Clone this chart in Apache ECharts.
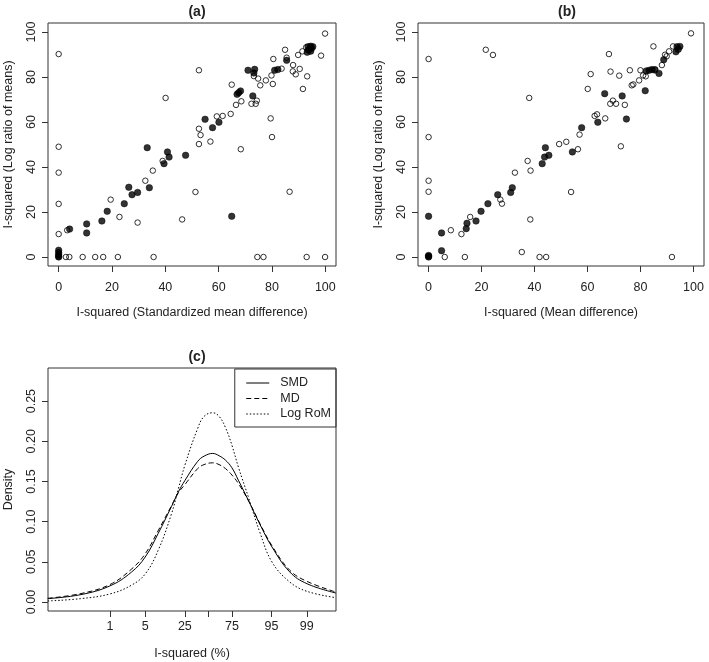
<!DOCTYPE html>
<html>
<head>
<meta charset="utf-8">
<script src="https://cdn.jsdelivr.net/npm/echarts@6/dist/echarts.min.js"></script>
<style>
  html, body { margin: 0; padding: 0; background: #fff; }
  #chart { width: 709px; height: 662px; }
</style>
</head>
<body>
<div id="chart"></div>
<script>
// (a) I-squared SMD (x) vs I-squared log ratio of means (y)
var aOpen = [
  [0, 90.2], [52.6, 83], [40.1, 70.7], [52.6, 57], [53.2, 54.2], [52.6, 50.2], [0, 49],
  [39, 42.7], [0, 37.5], [35.3, 38.4], [32.5, 33.9], [51.3, 28.9], [0, 23.6], [19.5, 25.5],
  [22.8, 17.8], [29.6, 15.3], [46.3, 16.7], [3.2, 11.9], [0, 10.2],
  [2.7, 0], [4, 0], [9, 0], [13.7, 0], [16.7, 0], [22.2, 0], [35.6, 0], [74.5, 0], [76.8, 0], [93, 0], [99.9, 0],
  [99.9, 99.3], [84.9, 92.1], [89.8, 89.8], [91.4, 91.4], [98.4, 89.5], [80.5, 88], [85.5, 88.6],
  [87.9, 85.3], [90.4, 83.6], [87.8, 82.5], [88.9, 81.2], [93.2, 80.3], [91.6, 74.7], [83.6, 83.7],
  [79.8, 80.7], [80.3, 76.9], [77.7, 78.5], [75.6, 76.3], [74.8, 79.3], [73.2, 80.4], [64.9, 76.6],
  [66.5, 67.6], [68.5, 69.2], [72.3, 68.1], [73.9, 68.1], [74.3, 69.5], [64.5, 63.6], [61.5, 62.7],
  [59.3, 62.5], [56.9, 51.3], [68.3, 47.9], [79.5, 61.6], [80, 53.3], [86.6, 29], [92.8, 93.2]
];
var aFilled = [
  [33.2, 48.6], [40.8, 46.7], [41.4, 44.4], [47.6, 45.2], [39.5, 41.5], [26.3, 31], [34, 30.8],
  [27.5, 27.7], [29.6, 28.7], [24.6, 23.7], [18.2, 20.3], [16.2, 16], [10.5, 14.7], [4.1, 12.4],
  [10.5, 10.7], [0, 0], [0, 0.3], [0, 1.1], [0, 2], [0, 3],
  [93.5, 93.5], [94.5, 93.7], [95.3, 93.5], [93.7, 92], [94.5, 91.5], [93.2, 91], [94.8, 92.7],
  [85.5, 87.4], [81, 83], [82.2, 83.3], [71, 83], [73.5, 83.4], [73.2, 81.8], [66.9, 72.3],
  [68.2, 73.8], [67.5, 73], [72.8, 71.6], [54.9, 61.2], [57.7, 57.5], [60.1, 59.9], [64.9, 18.1]
];

// (b) I-squared MD (x) vs I-squared log ratio of means (y)
var bOpen = [
  [0, 88], [21.6, 92.1], [24.3, 89.8], [38, 70.7], [0, 53.3], [0, 33.9], [0, 29], [6.1, 0],
  [8.4, 11.9], [12.4, 10.2], [13.7, 0], [15.7, 17.8], [27.1, 25.5], [27.7, 23.7], [32.6, 37.5],
  [35.2, 2.2], [37.4, 42.7], [38.5, 38.4], [38.4, 16.7], [41.9, 0], [44.4, 0], [49.3, 50.2], [52, 51.2],
  [99.1, 99.4], [84.9, 93.6], [68.1, 90.2], [92.3, 93.6], [90.8, 91.4], [89.3, 89.9], [89.9, 89.2],
  [88.1, 85.3], [85.6, 83.4], [80, 83], [82, 80.3], [81, 80.7], [79.5, 78.5], [77.3, 76.7],
  [76.7, 76.3], [76, 83], [72, 80.6], [68.7, 82.4], [61.2, 81.3], [60.1, 74.7], [69.6, 69.5],
  [68.6, 68.1], [70.8, 68.1], [74.1, 67.6], [62.7, 62.7], [63.6, 63.4], [66.7, 61.6], [72.6, 49.2],
  [57, 54.4], [56.4, 47.9], [53.8, 28.9], [91.9, 0]
];
var bFilled = [
  [0, 18.1], [0, 0.7], [0, 0], [0, 0.3], [4.9, 10.7], [4.9, 2.8], [14.2, 12.6], [14.5, 15],
  [17.9, 16], [19.8, 20.3], [22.4, 23.7], [26.1, 27.7], [31, 28.7], [31.6, 30.8], [42.9, 41.5],
  [43.8, 44.4], [44.1, 48.6], [45.4, 45.2],
  [93.8, 93.5], [94.9, 93.6], [93.4, 91.2], [94.3, 92.3], [88.8, 87.7], [87, 81.6], [82.2, 82.7],
  [83.3, 83], [84.4, 83.3], [85.4, 83.1], [81.8, 73.9], [66.5, 72.6], [73.1, 71.6], [63.9, 59.9],
  [74.7, 61.3], [57.8, 57.5], [54.3, 46.7]
];

var logitX     = [-7.5, -5.95, -4.6, -3.6, -2.95, -2.35, -1.72, -1.4, -1.1, -0.5, -0.2, 0.2, 0.5, 0.8, 1.1, 1.4, 1.9, 2.4, 2.97, 3.8, 4.6, 5.95];
var smdDensity = [0.0042, 0.0092, 0.020, 0.037, 0.056, 0.085, 0.119, 0.137, 0.151, 0.175, 0.1815, 0.1849, 0.182, 0.1765, 0.167, 0.1516, 0.1247, 0.097, 0.0685, 0.0374, 0.0228, 0.0112];
var mdDensity  = [0.0046, 0.0105, 0.0217, 0.0407, 0.060, 0.0885, 0.120, 0.136, 0.146, 0.166, 0.171, 0.1732, 0.171, 0.166, 0.158, 0.1475, 0.1247, 0.098, 0.070, 0.0395, 0.0257, 0.0124];
var romDensity = [0.0013, 0.0042, 0.010, 0.0208, 0.0349, 0.064, 0.110, 0.141, 0.170, 0.216, 0.231, 0.2355, 0.231, 0.217, 0.195, 0.168, 0.128, 0.087, 0.0498, 0.0249, 0.0133, 0.0054];

var scatterTicks = [0, 20, 40, 60, 80, 100];
var densityTicks = [0, 0.05, 0.10, 0.15, 0.20, 0.25];
var percentTicks = [1, 5, 25, 50, 75, 95, 99];
var percentLabels = ['1', '5', '25', '', '75', '95', '99'];

var FONT = '"Liberation Sans", Arial, sans-serif';
var TXT = '#222';
var FS = 12.5;

function logit(p) { return Math.log(p / (1 - p)); }
var percentPos = percentTicks.map(function (p) { return logit(p / 100); });

function pairs(xs, ys) {
    return xs.map(function (x, i) { return [x, ys[i]]; });
}

// R-like axis: box drawn by the grid, ticks outside, labels only at given ticks
function axis(gridIndex, min, max, ticks, name, isY, opts) {
    opts = opts || {};
    return {
        gridIndex: gridIndex,
        type: 'value',
        min: min,
        max: max,
        splitLine: { show: false },
        axisLine: { show: false, onZero: false },
        axisTick: { show: true, length: 6, lineStyle: { color: '#333' }, customValues: ticks },
        axisLabel: {
            customValues: ticks,
            margin: opts.margin,
            rotate: isY ? 90 : 0,
            fontSize: FS,
            color: TXT,
            fontFamily: FONT,
            formatter: opts.formatter
        },
        name: name,
        nameLocation: 'middle',
        nameGap: opts.nameGap,
        nameTextStyle: { fontSize: FS, color: TXT, fontFamily: FONT }
    };
}

var openStyle = { color: 'rgba(0,0,0,0)', borderColor: '#000', borderWidth: 1 };
var fillStyle = { color: '#000', borderColor: '#000', borderWidth: 0.6 };
var titleStyle = { fontSize: 14, fontWeight: 'bold', color: TXT, fontFamily: FONT };

var myChart = echarts.init(document.getElementById('chart'), null, { renderer: 'canvas' });

var option = {
    animation: false,
    backgroundColor: '#fff',
    title: [
        { text: '(a)', left: 192, top: 0, textAlign: 'center', textStyle: titleStyle },
        { text: '(b)', left: 562, top: 0, textAlign: 'center', textStyle: titleStyle },
        { text: '(c)', left: 192, top: 345, textAlign: 'center', textStyle: titleStyle }
    ],
    grid: [
        { left: 48, top: 23, width: 288, height: 243, show: true, borderColor: '#333', borderWidth: 1, backgroundColor: 'transparent' },
        { left: 418, top: 23, width: 286, height: 243, show: true, borderColor: '#333', borderWidth: 1, backgroundColor: 'transparent' },
        { left: 48, top: 368, width: 288, height: 243, show: true, borderColor: '#333', borderWidth: 1, backgroundColor: 'transparent' }
    ],
    xAxis: [
        axis(0, -4, 104, scatterTicks, 'I-squared (Standardized mean difference)', false, { margin: 15, nameGap: 40 }),
        axis(1, -4, 104, scatterTicks, 'I-squared (Mean difference)', false, { margin: 15, nameGap: 40 }),
        axis(2, -7.49, 5.96, percentPos, 'I-squared (%)', false, {
            margin: 9, nameGap: 36,
            formatter: function (v) {
                var best = 0;
                percentPos.forEach(function (p, i) {
                    if (Math.abs(p - v) < Math.abs(percentPos[best] - v)) best = i;
                });
                return percentLabels[best];
            }
        })
    ],
    yAxis: [
        axis(0, -4, 104, scatterTicks, 'I-squared (Log ratio of means)', true, { margin: 10, nameGap: 33 }),
        axis(1, -4, 104, scatterTicks, 'I-squared (Log ratio of means)', true, { margin: 10, nameGap: 33 }),
        axis(2, -0.0112, 0.2912, densityTicks, 'Density', true, {
            margin: 10, nameGap: 33,
            formatter: function (v) { return v.toFixed(2); }
        })
    ],
    legend: {
        data: ['SMD', 'MD', 'Log RoM'],
        orient: 'vertical',
        right: 373,
        top: 369,
        padding: [7, 5, 6, 11],
        itemWidth: 23,
        itemHeight: 14,
        itemGap: 1.5,
        itemStyle: { opacity: 0 },
        lineStyle: { width: 1 },
        borderColor: '#333',
        borderWidth: 1,
        borderRadius: 0,
        textStyle: { fontSize: FS, lineHeight: 14, color: TXT, fontFamily: FONT, padding: [0, 0, 0, 6] }
    },
    series: [
        { type: 'scatter', xAxisIndex: 0, yAxisIndex: 0, data: aOpen, symbol: 'circle', symbolSize: 5.5, itemStyle: openStyle, silent: true },
        { type: 'scatter', xAxisIndex: 0, yAxisIndex: 0, data: aFilled, symbol: 'circle', symbolSize: 6.5, itemStyle: fillStyle, silent: true },
        { type: 'scatter', xAxisIndex: 1, yAxisIndex: 1, data: bOpen, symbol: 'circle', symbolSize: 5.5, itemStyle: openStyle, silent: true },
        { type: 'scatter', xAxisIndex: 1, yAxisIndex: 1, data: bFilled, symbol: 'circle', symbolSize: 6.5, itemStyle: fillStyle, silent: true },
        {
            name: 'SMD', type: 'line', xAxisIndex: 2, yAxisIndex: 2, data: pairs(logitX, smdDensity),
            smooth: 0.4, symbol: 'none', lineStyle: { color: '#000', width: 1, type: 'solid' }, itemStyle: { color: '#000' }
        },
        {
            name: 'MD', type: 'line', xAxisIndex: 2, yAxisIndex: 2, data: pairs(logitX, mdDensity),
            smooth: 0.4, symbol: 'none', lineStyle: { color: '#000', width: 1, type: [5, 3] }, itemStyle: { color: '#000' }
        },
        {
            name: 'Log RoM', type: 'line', xAxisIndex: 2, yAxisIndex: 2, data: pairs(logitX, romDensity),
            smooth: 0.4, symbol: 'none', lineStyle: { color: '#000', width: 1, type: [1.5, 2] }, itemStyle: { color: '#000' }
        }
    ]
};
myChart.setOption(option);
</script>
</body>
</html>
